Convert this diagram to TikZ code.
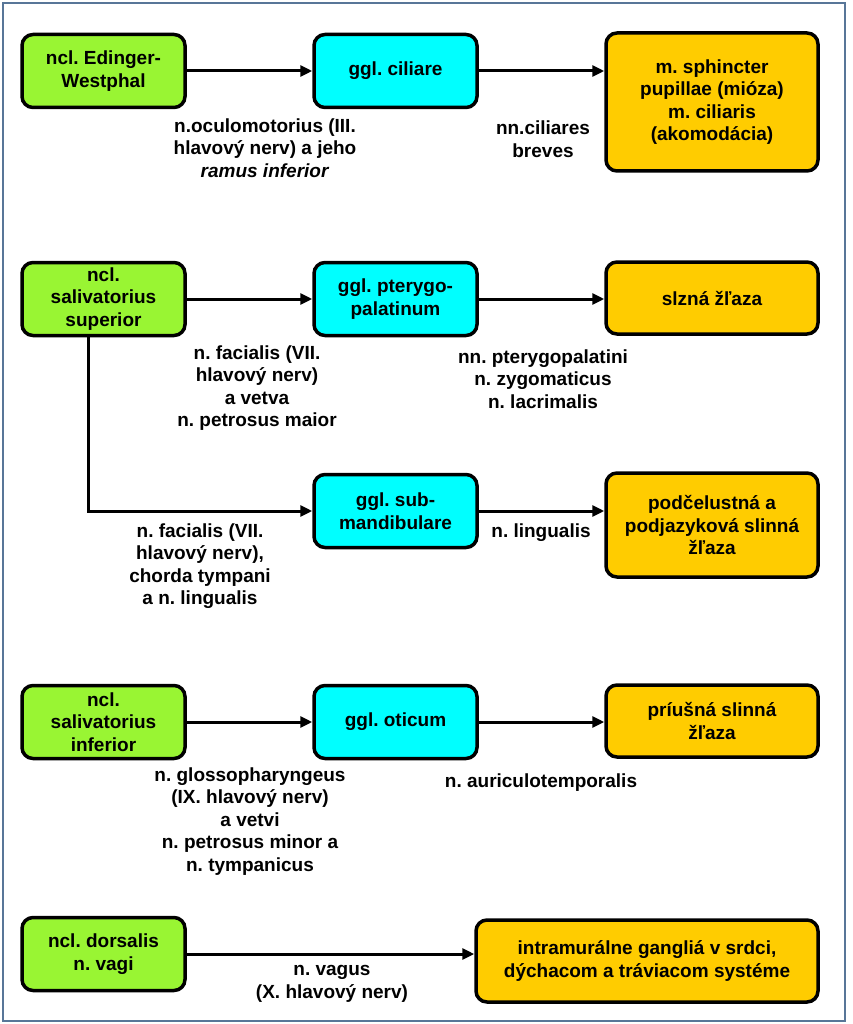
\documentclass[tikz,border=0pt]{standalone}
\usepackage{fontspec}
\setmainfont{Liberation Sans}
\usetikzlibrary{arrows.meta,calc}
\definecolor{grn}{RGB}{153,245,51}
\definecolor{cyn}{RGB}{0,255,255}
\definecolor{org}{RGB}{255,204,0}
\definecolor{frm}{RGB}{88,118,152}
\frenchspacing
\begin{document}
\begin{tikzpicture}[x=1pt,y=-1pt,
  box/.style={draw=black,line width=3.5pt,rounded corners=11pt,align=center,inner sep=0pt,
    font=\bfseries\fontsize{19}{22.5}\selectfont},
  gbox/.style={box,fill=grn,minimum width=163pt,minimum height=73pt},
  cbox/.style={box,fill=cyn,minimum width=163pt,minimum height=73pt},
  obox/.style={box,fill=org,minimum width=212pt},
  lbl/.style={align=center,inner sep=0pt,font=\bfseries\fontsize{19}{22.5}\selectfont},
  arr/.style={line width=3pt,-{Triangle[length=12pt,width=11pt]}}]
\useasboundingbox (0,0) rectangle (852,1024);
\fill[white] (0,0) rectangle (852,1024);
\draw[frm,line width=1.6pt] (3,3) rectangle (845,1021);

% row 1
\node[gbox] (g1) at (103.5,71) {ncl. Edinger-\\Westphal};
\node[cbox] (c1) at (395.5,71) {ggl. ciliare};
\node[obox,minimum height=138pt] (o1) at (712,102) {m. sphincter\\pupillae (mióza)\\m. ciliaris\\(akomodácia)};
\draw[arr] (g1) -- (c1);
\draw[arr] (c1.east) -- (c1.east -| o1.west);
\node[lbl] (l1) at (265,148) {n.oculomotorius (III.\\hlavový nerv) a jeho\\\textit{ramus inferior}};
\node[lbl] (l2) at (543,139) {nn.ciliares\\breves};

% row 2
\node[gbox] (g2) at (103.5,299) {ncl.\\salivatorius\\superior};
\node[cbox] (c2) at (395.5,299) {ggl. pterygo-\\palatinum};
\node[obox,minimum height=72pt] (o2) at (712,298) {slzná žľaza};
\draw[arr] (g2) -- (c2);
\draw[arr] (c2.east) -- (c2.east -| o2.west);
\node[lbl] (l3) at (257,388) {n. facialis (VII.\\hlavový nerv)\\a vetva\\n. petrosus maior};
\node[lbl] (l4) at (543,379) {nn. pterygopalatini\\n. zygomaticus\\n. lacrimalis};

% row 3
\node[cbox] (c3) at (395.5,511) {ggl. sub-\\mandibulare};
\node[obox,minimum height=104pt] (o3) at (712,525) {podčelustná a\\podjazyková slinná\\žľaza};
\coordinate (bend) at (88,511);
\draw[arr] (g2.south -| bend) -- (bend) -- (c3.west);
\draw[arr] (c3.east) -- (c3.east -| o3.west);
\node[lbl] (l5) at (200,566) {n. facialis (VII.\\hlavový nerv),\\chorda tympani\\a n. lingualis};
\node[lbl] (l6) at (541,533) {n. lingualis};

% row 4
\node[gbox] (g4) at (103.5,722) {ncl.\\salivatorius\\inferior};
\node[cbox] (c4) at (395.5,722) {ggl. oticum};
\node[obox,minimum height=72pt] (o4) at (712,721) {príušná slinná\\žľaza};
\draw[arr] (g4) -- (c4);
\draw[arr] (c4.east) -- (c4.east -| o4.west);
\node[lbl] (l7) at (250,821.5) {n. glossopharyngeus\\(IX. hlavový nerv)\\a vetvi\\n. petrosus minor a\\n. tympanicus};
\node[lbl] (l8) at (541,783) {n. auriculotemporalis};

% row 5
\node[gbox] (g5) at (103.5,954) {ncl. dorsalis\\n. vagi};
\node[box,fill=org,minimum width=342pt,minimum height=82pt] (o5) at (647,961) {intramurálne gangliá v srdci,\\dýchacom a tráviacom systéme};
\draw[arr] (g5.east) -- (g5.east -| o5.west);
\node[lbl] (l9) at (332,984) {n. vagus\\(X. hlavový nerv)};
\end{tikzpicture}
\end{document}
